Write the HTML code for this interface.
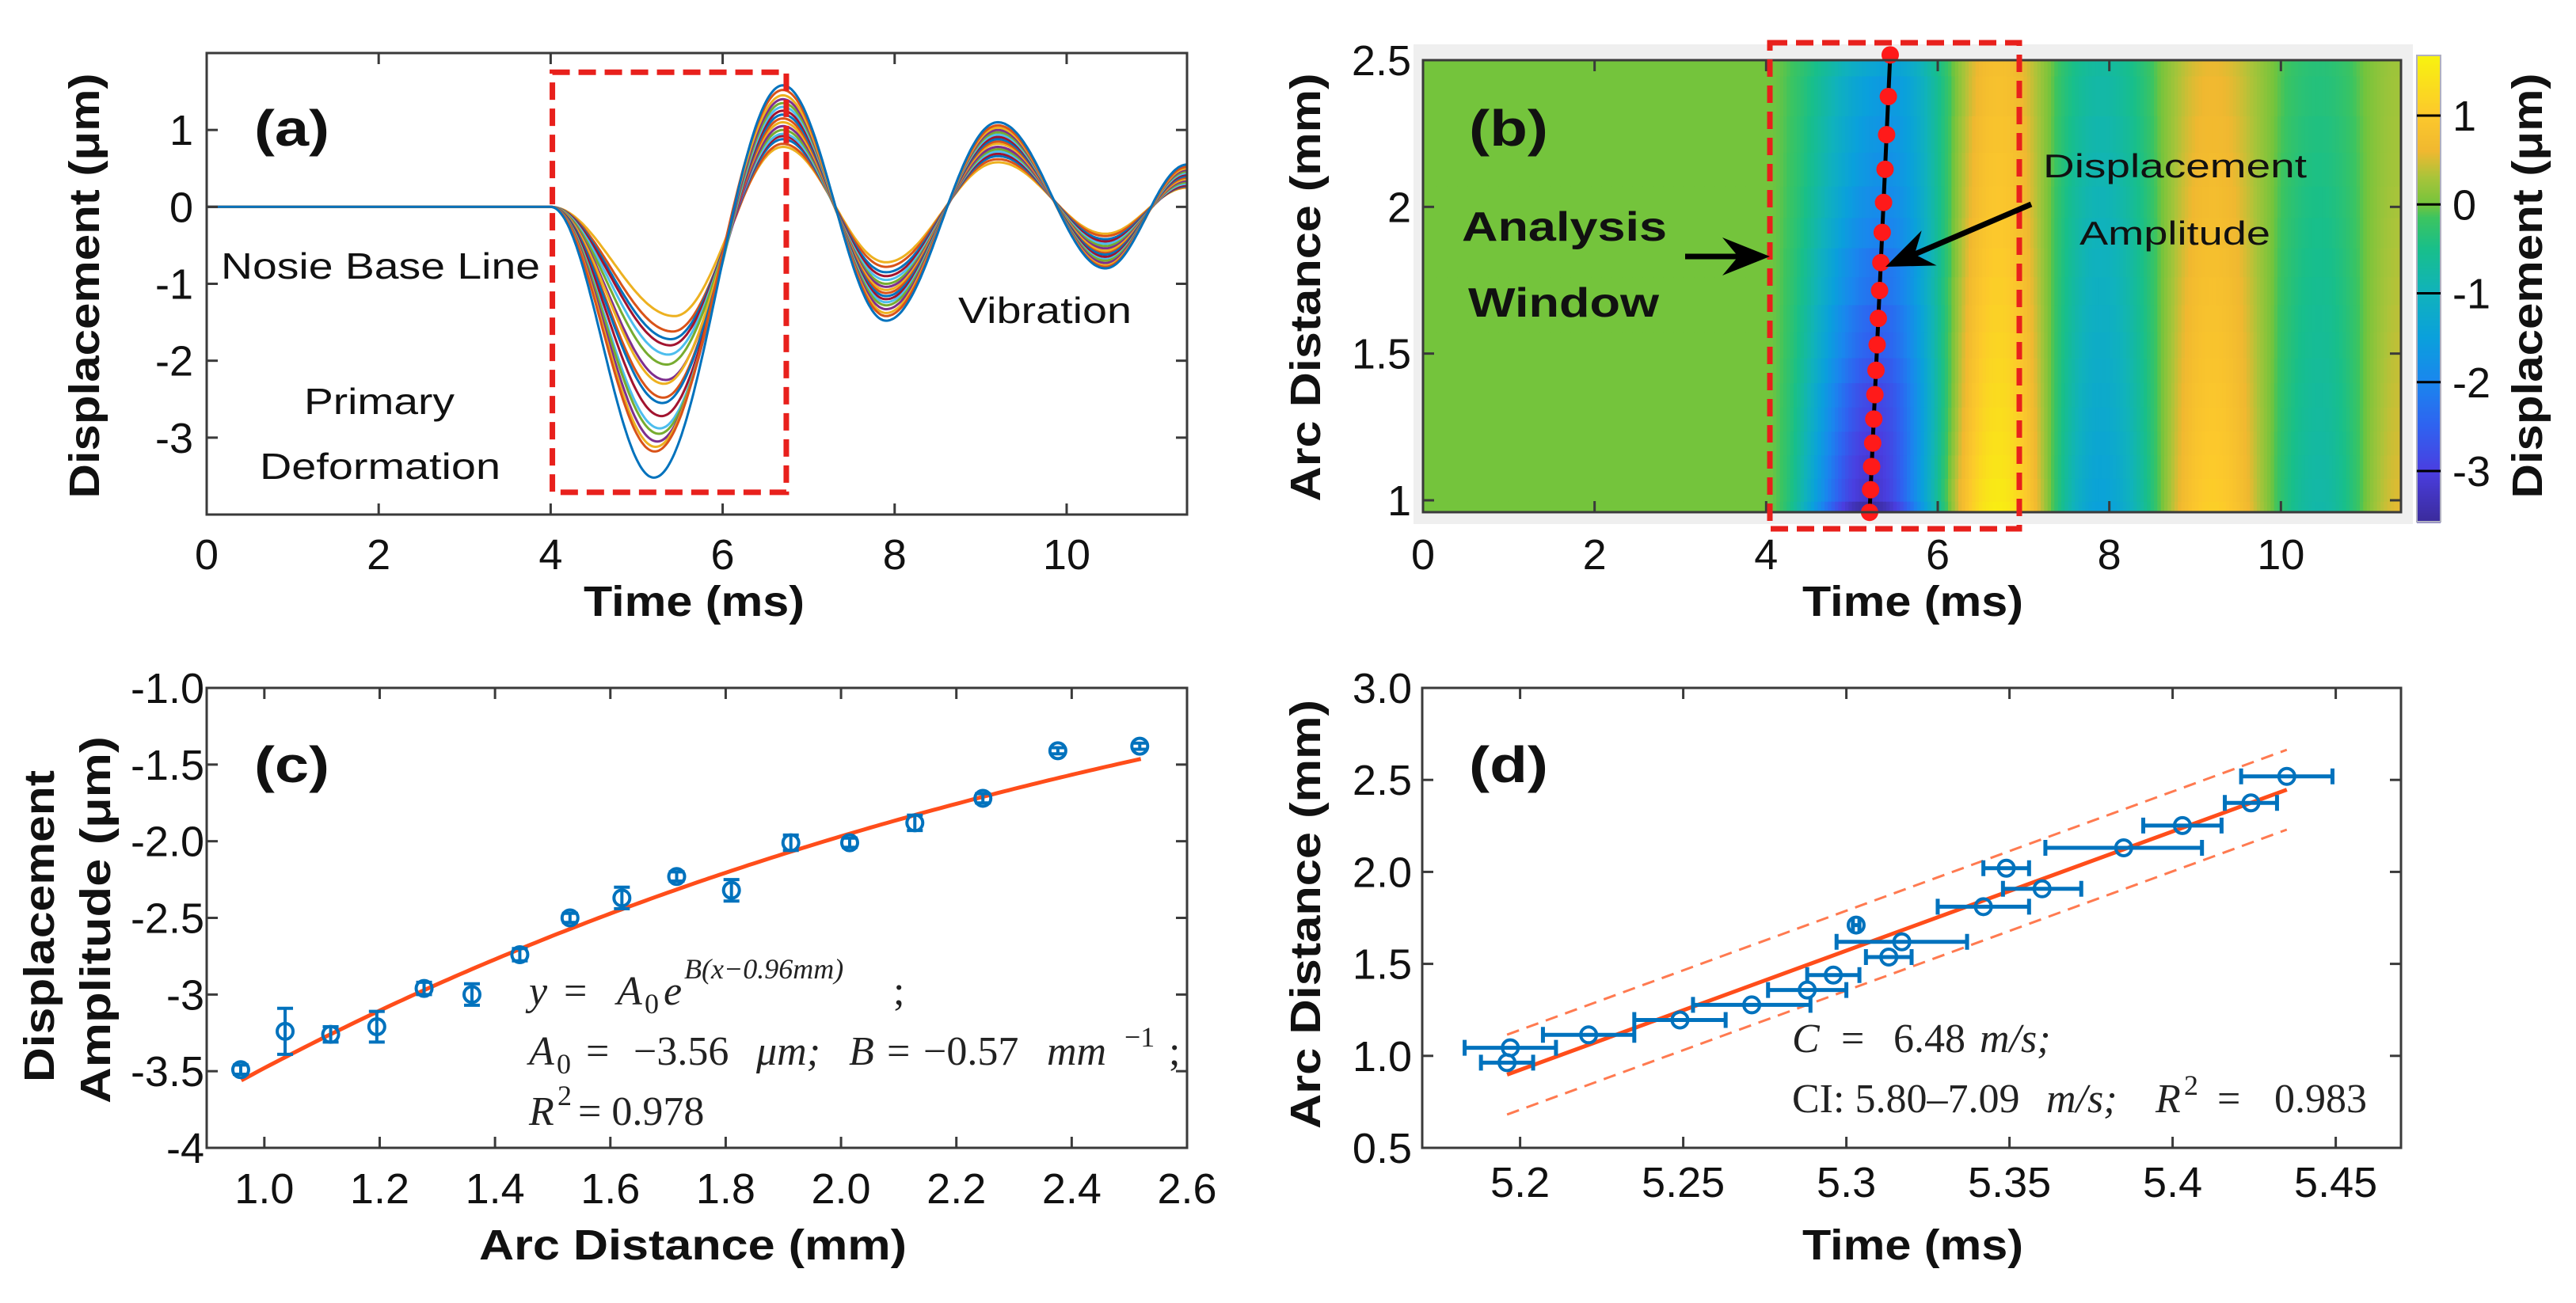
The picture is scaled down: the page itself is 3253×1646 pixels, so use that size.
<!DOCTYPE html>
<html><head><meta charset="utf-8"><title>Displacement figure</title>
<style>html,body{margin:0;padding:0;background:#fff}svg{display:block}</style></head>
<body>
<svg id="fig" xmlns="http://www.w3.org/2000/svg" width="3253" height="1646" viewBox="0 0 3253 1646">
<rect x="0" y="0" width="3253" height="1646" fill="#fff"/>
<defs>
<clipPath id="clipA"><rect x="261" y="67" width="1238" height="583"/></clipPath>
<clipPath id="clipB"><rect x="1797" y="76" width="1235" height="571"/></clipPath>
</defs>
</svg>
<script>
// ---------- data ----------
const arcs = [0.959,1.036,1.115,1.195,1.277,1.36,1.443,1.53,1.62,1.715,1.81,1.913,2.015,2.128,2.246,2.376,2.518];
const ampC = [-3.49,-3.24,-3.26,-3.21,-2.96,-3.00,-2.74,-2.50,-2.37,-2.23,-2.32,-2.01,-2.01,-1.88,-1.72,-1.41,-1.38];
const errC = [0.03,0.15,0.05,0.10,0.04,0.07,0.04,0.03,0.07,0.03,0.07,0.05,0.03,0.05,0.03,0.02,0.02];
const fitA0 = -3.56;
const fitB = -0.57;
const fitX0 = 0.96;

const troughA = [-3.52,-3.18,-3.12,-3.05,-2.95,-2.88,-2.72,-2.55,-2.48,-2.30,-2.25,-2.05,-1.92,-1.80,-1.72,-1.62,-1.42];
const troughT = [5.20,5.21,5.22,5.24,5.26,5.27,5.29,5.30,5.31,5.32,5.34,5.35,5.37,5.39,5.40,5.42,5.44];
const peak1 = [1.58,1.52,1.45,1.40,1.35,1.30,1.25,1.20,1.15,1.10,1.05,1.00,0.95,0.92,0.88,0.82,0.78];
const trough2 = [-1.48,-1.42,-1.38,-1.33,-1.28,-1.24,-1.20,-1.16,-1.12,-1.08,-1.04,-1.00,-0.95,-0.90,-0.85,-0.78,-0.72];
const peak2 = [1.10,1.06,1.03,1.00,0.97,0.94,0.91,0.88,0.85,0.82,0.78,0.75,0.72,0.69,0.66,0.62,0.58];
const trough3 = [-0.80,-0.78,-0.76,-0.73,-0.70,-0.68,-0.65,-0.62,-0.60,-0.57,-0.54,-0.51,-0.48,-0.45,-0.42,-0.38,-0.35];
const endVal = [0.55,0.52,0.50,0.48,0.46,0.44,0.42,0.40,0.38,0.36,0.34,0.32,0.30,0.28,0.27,0.26,0.25];
const keyTimes = [0, 4.0, null, 6.7, 7.9, 9.2, 10.45, 11.4];

const timeD = [5.196,5.197,5.221,5.249,5.271,5.288,5.296,5.303,5.313,5.317,5.342,5.349,5.360,5.385,5.403,5.424,5.435];
const arcD = [0.963,1.044,1.114,1.195,1.277,1.358,1.439,1.711,1.537,1.620,1.811,2.020,1.908,2.131,2.252,2.375,2.519];
const errD = [0.008,0.014,0.014,0.014,0.018,0.012,0.008,0.001,0.007,0.020,0.014,0.007,0.012,0.024,0.012,0.008,0.014];
const fitC = 6.48;
const fitT0 = 5.196;
const fitD0 = 0.898;
const fitT1 = 5.435;
const ciOff = 0.217;

const ticksAx = [0,2,4,6,8,10];
const ticksAy = [-3,-2,-1,0,1];
const ticksBy = [1,1.5,2,2.5];
const ticksBy_lab = ["1","1.5","2","2.5"];
const ticksCx = [1.0,1.2,1.4,1.6,1.8,2.0,2.2,2.4,2.6];
const ticksCx_lab = ["1.0","1.2","1.4","1.6","1.8","2.0","2.2","2.4","2.6"];
const ticksCy = [-1,-1.5,-2,-2.5,-3,-3.5,-4];
const ticksCy_lab = ["-1.0","-1.5","-2.0","-2.5","-3","-3.5","-4"];
const ticksDx = [5.2,5.25,5.3,5.35,5.4,5.45];
const ticksDx_lab = ["5.2","5.25","5.3","5.35","5.4","5.45"];
const ticksDy = [0.5,1.0,1.5,2.0,2.5,3.0];
const ticksDy_lab = ["0.5","1.0","1.5","2.0","2.5","3.0"];
const cbTicks = [1,0,-1,-2,-3];
const cmapV = [-3.6,-3.0,-2.5,-2.0,-1.5,-1.0,-0.5,-0.15,0.0,0.3,0.6,1.0,1.7];
const cmapC = ['#3a2a98','#4a3ee0','#2f62f0','#1a86ee','#0aa0dc','#10b2bc','#18bf8a','#3cc460','#74c43c','#a8c43a','#f0b830','#fcc82c','#f8f40e'];

// ---------- helpers ----------
const NS='http://www.w3.org/2000/svg';
const svg=document.getElementById('fig');
function mk(tag,attrs,parent){const e=document.createElementNS(NS,tag);for(const k in attrs)e.setAttribute(k,attrs[k]);(parent||svg).appendChild(e);return e;}
function txt(x,y,s,attrs,parent){const e=mk('text',Object.assign({x:x,y:y,'font-family':'"Liberation Sans", sans-serif'},attrs),parent);e.textContent=s;return e;}
function scale(d0,d1,r0,r1){return v=>r0+(v-d0)/(d1-d0)*(r1-r0);}
function hex2rgb(h){return [parseInt(h.substr(1,2),16),parseInt(h.substr(3,2),16),parseInt(h.substr(5,2),16)];}
function cmap(v){
  if(v<=cmapV[0])return cmapC[0];
  for(let i=1;i<cmapV.length;i++){
    if(v<=cmapV[i]){const f=(v-cmapV[i-1])/(cmapV[i]-cmapV[i-1]);const a=hex2rgb(cmapC[i-1]),b=hex2rgb(cmapC[i]);
      return 'rgb('+a.map((c,k)=>Math.round(c+(b[k]-c)*f)).join(',')+')';}
  }
  return cmapC[cmapC.length-1];
}
function curveVal(i,t){
  const kt=[keyTimes[0],keyTimes[1],troughT[i],keyTimes[3],keyTimes[4],keyTimes[5],keyTimes[6],keyTimes[7]];
  const kv=[0,0,troughA[i],peak1[i],trough2[i],peak2[i],trough3[i],endVal[i]];
  if(t<=kt[1])return 0;
  for(let k=1;k<kt.length;k++){
    if(t<=kt[k]){const f=(t-kt[k-1])/(kt[k]-kt[k-1]);const s=(1-Math.cos(Math.PI*f))/2;return kv[k-1]+(kv[k]-kv[k-1])*s;}
  }
  return kv[kv.length-1];
}
function axesBox(g,L,R,T,B,xt,yt,xs,ys,name){
  const r=mk('rect',{x:L,y:T,width:R-L,height:B-T,fill:'none',stroke:'#3a3a3a','stroke-width':3},g);
  
  
  xt.forEach(v=>{const x=xs(v);
    const a=mk('line',{x1:x,y1:B,x2:x,y2:B-14,stroke:'#3a3a3a','stroke-width':3},g);
    
    
    const b=mk('line',{x1:x,y1:T,x2:x,y2:T+14,stroke:'#3a3a3a','stroke-width':3},g);
    
    });
  yt.forEach(v=>{const y=ys(v);
    const a=mk('line',{x1:L,y1:y,x2:L+14,y2:y,stroke:'#3a3a3a','stroke-width':3},g);
    
    
    const b=mk('line',{x1:R,y1:y,x2:R-14,y2:y,stroke:'#3a3a3a','stroke-width':3},g);
    
    });
}
function tickLabels(g,xt,xl,xs,xy,yt,yl,ys,yx,name){
  xt.forEach((v,i)=>{const e=txt(xs(v),xy,xl[i],{'font-size':54,'text-anchor':'middle',fill:'#111'},g);
    
    });
  yt.forEach((v,i)=>{const e=txt(yx,ys(v)+19,yl[i],{'font-size':54,'text-anchor':'end',fill:'#111'},g);
    
    });
}
function vlabel(g,x,cy,len,s,name,size){
  const e=txt(0,0,s,{'font-size':size||54,'font-weight':'bold','text-anchor':'middle',textLength:len,lengthAdjust:'spacingAndGlyphs',transform:'translate('+x+','+cy+') rotate(-90)',fill:'#111'},g);
  
  
  return e;
}
function hlabel(g,x,y,len,s,name,attrs){
  const e=txt(x,y,s,Object.assign({'font-size':46,textLength:len,lengthAdjust:'spacingAndGlyphs',fill:'#111'},attrs||{}),g);
  
  
  return e;
}
function arrow(g,x0,y0,x1,y1,name){
  const dx=x1-x0,dy=y1-y0,l=Math.hypot(dx,dy),ux=dx/l,uy=dy/l,hl=48,hw=24;
  const bx=x1-ux*hl,by=y1-uy*hl;
  const ln=mk('line',{x1:x0,y1:y0,x2:bx+ux*10,y2:by+uy*10,stroke:'#000','stroke-width':7},g);
  
  
  const pts=[[x1,y1],[bx-uy*hw-ux*12,by+ux*hw-uy*12],[bx+ux*8,by+uy*8],[bx+uy*hw-ux*12,by-ux*hw-uy*12]].map(p=>p.join(',')).join(' ');
  const hd=mk('polygon',{points:pts,fill:'#000'},g);
  
  
}
const matlab=['#0072BD','#D95319','#EDB120','#7E2F8E','#77AC30','#4DBEEE','#A2142F'];

// ---------- Panel A ----------
(function(){
  const g=mk('g',{});
  
  
  const L=261,R=1499,T=67,B=650;
  const xs=scale(0,11.4,L,R), ys=scale(2,-4,T,B);
  const cg=mk('g',{'clip-path':'url(#clipA)'},g);
  
  
  for(let i=troughA.length-1;i>=0;i--){
    let d='';
    for(let t=0;t<=11.4001;t+=0.02){d+=(d?'L':'M')+xs(t).toFixed(1)+','+ys(curveVal(i,t)).toFixed(1);}
    const p=mk('path',{d:d,fill:'none',stroke:matlab[i%7],'stroke-width':3},cg);
    
    
  }
  axesBox(g,L,R,T,B,ticksAx,ticksAy,xs,ys,'panel-a');
  tickLabels(g,ticksAx,ticksAx.map(String),xs,719,ticksAy,ticksAy.map(String),ys,244,'panel-a');
  const box=mk('rect',{x:xs(4.02),y:ys(1.75),width:xs(6.74)-xs(4.02),height:ys(-3.71)-ys(1.75),fill:'none',stroke:'#e8201c','stroke-width':7,'stroke-dasharray':'22 11'},g);
  
  
  hlabel(g,321,184,95,'(a)','panel-a-label',{'font-size':64,'font-weight':'bold'});
  hlabel(g,279,352,403,'Nosie Base Line','noise-baseline-annotation');
  hlabel(g,384,523,190,'Primary','primary-annotation');
  hlabel(g,328,605,304,'Deformation','deformation-annotation');
  hlabel(g,1210,408,219,'Vibration','vibration-annotation');
  hlabel(g,737,778,279,'Time (ms)','panel-a-x-axis-title',{'font-size':54,'font-weight':'bold'});
  vlabel(g,125,361,537,'Displacement (μm)','panel-a-y-axis-title');
})();

// ---------- Panel B ----------
(function(){
  const g=mk('g',{});
  
  
  const L=1797,R=3032,T=76,B=647;
  const xs=scale(0,11.4,L,R), ys=scale(2.5,1,T,632);
  const bg=mk('rect',{x:1785,y:56,width:1262,height:606,fill:'#efefef'},g);
  
  
  const hg=mk('g',{'clip-path':'url(#clipB)'},g);
  
  
  const dt=0.04;
  for(let i=0;i<arcs.length;i++){
    const lo=i===0?0.9:(arcs[i-1]+arcs[i])/2;
    const hi=i===arcs.length-1?2.6:(arcs[i]+arcs[i+1])/2;
    const y0=ys(hi),y1=ys(lo);
    for(let t=0;t<11.4;t+=dt){
      const c=mk('rect',{x:xs(t).toFixed(1),y:y0.toFixed(1),width:(xs(t+dt)-xs(t)+0.8).toFixed(1),height:(y1-y0+0.8).toFixed(1),fill:cmap(curveVal(i,t+dt/2))},hg);
      
      
    }
  }
  const tOf=a=>fitT0+(a-fitD0)/fitC;
  const tl=mk('line',{x1:xs(tOf(0.96)),y1:ys(0.96),x2:xs(tOf(2.5)),y2:ys(2.5),stroke:'#000','stroke-width':5},g);
  
  
  arcs.forEach(a=>{
    const c=mk('ellipse',{cx:xs(tOf(a)),cy:ys(a),rx:11,ry:11,fill:'#ff1a1a'},g);
    
    
  });
  axesBox(g,L,R,T,B,ticksAx,ticksBy,xs,ys,'panel-b');
  tickLabels(g,ticksAx,ticksAx.map(String),xs,719,ticksBy,ticksBy_lab,ys,1782,'panel-b');
  const box=mk('rect',{x:2235,y:54,width:315,height:614,fill:'none',stroke:'#e8201c','stroke-width':7,'stroke-dasharray':'22 11'},g);
  
  
  const cbT=70,cbB=659,cys=scale(1,-3,146,595);
  for(let y=cbT;y<cbB;y+=2){
    const v=1+(146-y-1)/112.25;
    const r=mk('rect',{x:3052,y:y,width:30,height:2.6,fill:cmap(v)},g);
    
    
  }
  const cbo=mk('rect',{x:3052,y:cbT,width:30,height:cbB-cbT,fill:'none',stroke:'#b0b0c0','stroke-width':2},g);
  
  
  cbTicks.forEach(v=>{
    const l=mk('line',{x1:3052,y1:cys(v),x2:3082,y2:cys(v),stroke:'#000','stroke-width':3},g);
    
    
    const e=txt(3097,cys(v)+19,String(v),{'font-size':54,fill:'#111'},g);
    
    
  });
  vlabel(g,3210,361,537,'Displacement (μm)','colorbar-title');
  hlabel(g,1855,184,100,'(b)','panel-b-label',{'font-size':64,'font-weight':'bold'});
  hlabel(g,1846,304,259,'Analysis','analysis-annotation',{'font-size':52,'font-weight':'bold'});
  hlabel(g,1854,400,241,'Window','window-annotation',{'font-size':52,'font-weight':'bold'});
  hlabel(g,2580,224,333,'Displacement','displacement-annotation',{'font-size':42});
  hlabel(g,2626,309,241,'Amplitude','amplitude-annotation',{'font-size':42});
  arrow(g,2128,324,2235,324,'analysis-window-arrow');
  arrow(g,2565,258,2381,337,'amplitude-arrow');
  hlabel(g,2276,778,279,'Time (ms)','panel-b-x-axis-title',{'font-size':54,'font-weight':'bold'});
  vlabel(g,1667,363,541,'Arc Distance (mm)','panel-b-y-axis-title');
})();

// ---------- Panel C ----------
(function(){
  const g=mk('g',{});
  
  
  const L=261,R=1499,T=869,B=1450;
  const xs=scale(0.9,2.6,L,R), ys=scale(-1,-4,T,B);
  axesBox(g,L,R,T,B,ticksCx,ticksCy,xs,ys,'panel-c');
  tickLabels(g,ticksCx,ticksCx_lab,xs,1520,ticksCy,ticksCy_lab,ys,258,'panel-c');
  let d='';
  for(let x=fitX0;x<=2.5201;x+=0.01){d+=(d?'L':'M')+xs(x).toFixed(1)+','+ys(fitA0*Math.exp(fitB*(x-fitX0))).toFixed(1);}
  const fl=mk('path',{d:d,fill:'none',stroke:'#ff4d1a','stroke-width':5},g);
  
  
  arcs.forEach((a,i)=>{
    const x=xs(a),y=ys(ampC[i]),y0=ys(ampC[i]+errC[i]),y1=ys(ampC[i]-errC[i]);
    const eb=mk('path',{d:'M'+x+','+y0+'L'+x+','+y1+'M'+(x-10)+','+y0+'L'+(x+10)+','+y0+'M'+(x-10)+','+y1+'L'+(x+10)+','+y1,stroke:'#0072BD','stroke-width':4,fill:'none'},g);
    
    
    const c=mk('circle',{cx:x,cy:y,r:10,fill:'none',stroke:'#0072BD','stroke-width':4},g);
    
    
  });
  const F='"Liberation Serif", serif';
  const eq=mk('text',{'font-family':F,'font-size':52,fill:'#222'},g);
  
  
  const parts=[[668,1269,'y','italic',52],[712,1269,'=','normal',52],[779,1269,'A','italic',52],[814,1280,'0','normal',36],[838,1269,'e','italic',52],[864,1236,'B(x−0.96mm)','italic',36],[1128,1269,';','normal',52],
    [668,1345,'A','italic',52],[703,1356,'0','normal',36],[740,1345,'=','normal',52],[800,1345,'−3.56','normal',52],[955,1345,'μm;','italic',52],[1072,1345,'B','italic',52],[1120,1345,'=','normal',52],[1166,1345,'−0.57','normal',52],[1322,1345,'mm','italic',52],[1420,1322,'−1','normal',36],[1476,1345,';','normal',52],
    [668,1421,'R','italic',52],[704,1396,'2','normal',36],[730,1421,'= 0.978','normal',52]];
  parts.forEach(p=>{const s=mk('tspan',{x:p[0],y:p[1],'font-style':p[3],'font-size':p[4]},eq);s.textContent=p[2];});
  hlabel(g,321,988,95,'(c)','panel-c-label',{'font-size':64,'font-weight':'bold'});
  hlabel(g,605,1591,540,'Arc Distance (mm)','panel-c-x-axis-title',{'font-size':54,'font-weight':'bold'});
  vlabel(g,68,1170,394,'Displacement','panel-c-y-axis-title-line1');
  vlabel(g,139,1162,464,'Amplitude (μm)','panel-c-y-axis-title-line2');
})();

// ---------- Panel D ----------
(function(){
  const g=mk('g',{});
  
  
  const L=1796,R=3032,T=869,B=1450;
  const xs=scale(5.17,5.47,L,R), ys=scale(3.0,0.5,T,B);
  axesBox(g,L,R,T,B,ticksDx,ticksDy,xs,ys,'panel-d');
  tickLabels(g,ticksDx,ticksDx_lab,xs,1512,ticksDy,ticksDy_lab,ys,1783,'panel-d');
  const fy=t=>fitD0+fitC*(t-fitT0);
  [[ciOff,'ci-upper-line'],[-ciOff,'ci-lower-line']].forEach(o=>{
    const l=mk('line',{x1:xs(fitT0),y1:ys(fy(fitT0)+o[0]),x2:xs(fitT1),y2:ys(fy(fitT1)+o[0]),stroke:'#ff7a50','stroke-width':3,'stroke-dasharray':'16 10'},g);
    
    
  });
  const fl=mk('line',{x1:xs(fitT0),y1:ys(fy(fitT0)),x2:xs(fitT1),y2:ys(fy(fitT1)),stroke:'#ff4d1a','stroke-width':5},g);
  
  
  timeD.forEach((t,i)=>{
    const x=xs(t),y=ys(arcD[i]),x0=xs(t-errD[i]),x1=xs(t+errD[i]);
    const eb=mk('path',{d:'M'+x0+','+y+'L'+x1+','+y+'M'+x0+','+(y-10)+'L'+x0+','+(y+10)+'M'+x1+','+(y-10)+'L'+x1+','+(y+10),stroke:'#0072BD','stroke-width':5,fill:'none'},g);
    
    
    const c=mk('circle',{cx:x,cy:y,r:10,fill:'none',stroke:'#0072BD','stroke-width':4},g);
    
    
  });
  const F='"Liberation Serif", serif';
  const eq=mk('text',{'font-family':F,'font-size':52,fill:'#222'},g);
  
  
  const parts=[[2263,1329,'C','italic',52],[2325,1329,'=','normal',52],[2391,1329,'6.48','normal',52],[2500,1329,'m/s;','italic',52],
    [2263,1405,'CI: 5.80–7.09','normal',52],[2584,1405,'m/s;','italic',52],[2722,1405,'R','italic',52],[2758,1383,'2','normal',36],[2800,1405,'=','normal',52],[2872,1405,'0.983','normal',52]];
  parts.forEach(p=>{const s=mk('tspan',{x:p[0],y:p[1],'font-style':p[3],'font-size':p[4]},eq);s.textContent=p[2];});
  hlabel(g,1855,988,100,'(d)','panel-d-label',{'font-size':64,'font-weight':'bold'});
  hlabel(g,2276,1591,279,'Time (ms)','panel-d-x-axis-title',{'font-size':54,'font-weight':'bold'});
  vlabel(g,1667,1155,542,'Arc Distance (mm)','panel-d-y-axis-title');
})();
</script>
</body></html>
